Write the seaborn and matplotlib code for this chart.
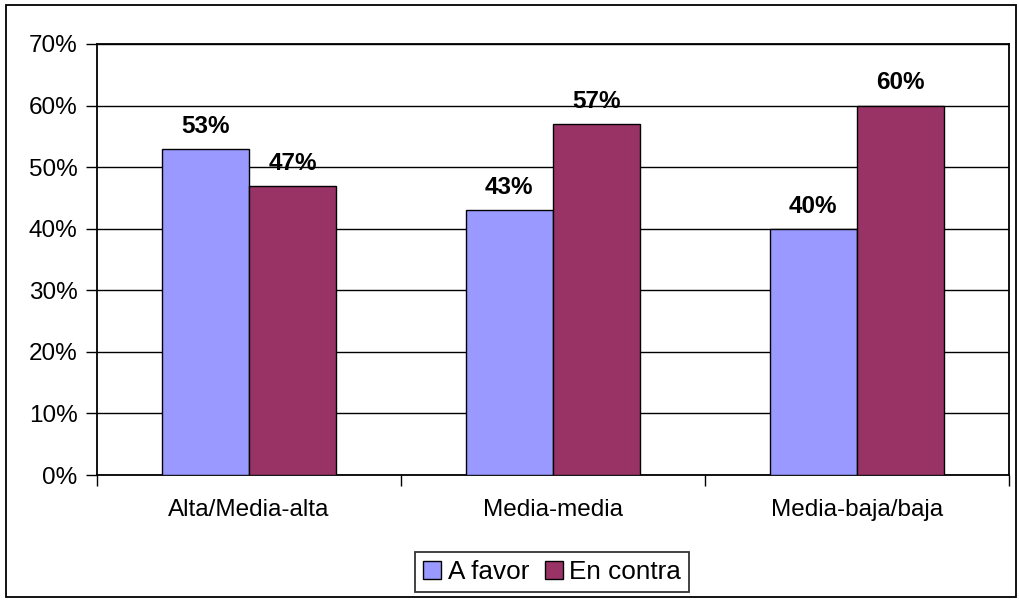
import matplotlib
matplotlib.use("Agg")
import matplotlib.pyplot as plt
import matplotlib.patches as mpatches
import seaborn as sns
import pandas as pd

categories = ["Alta/Media-alta", "Media-media", "Media-baja/baja"]
a_favor = [53, 43, 40]
en_contra = [47, 57, 60]
series_names = ["A favor", "En contra"]
y_ticks = [0, 10, 20, 30, 40, 50, 60, 70]
y_tick_labels = [f"{v}%" for v in y_ticks]

sns.set_style("white")
plt.rcParams["font.family"] = ["Liberation Sans", "DejaVu Sans"]
plt.rcParams["text.color"] = "black"
plt.rcParams["xtick.color"] = "black"
plt.rcParams["ytick.color"] = "black"
plt.rcParams["axes.labelcolor"] = "black"

df = pd.DataFrame({
    "cat": categories * 2,
    "serie": [series_names[0]] * 3 + [series_names[1]] * 3,
    "val": a_favor + en_contra,
})

fig = plt.figure(figsize=(10.19, 6.0), dpi=100)
ax = fig.add_axes([97 / 1019, 125 / 600, 912 / 1019, 431 / 600])

palette = {"A favor": "#9999FF", "En contra": "#993366"}
sns.barplot(data=df, x="cat", y="val", hue="serie", palette=palette,
            width=0.575, edgecolor="black", linewidth=1.0, saturation=1,
            ax=ax, zorder=3, legend=False)

ax.set_xlim(-0.5, 2.5)
ax.set_ylim(0, 70)
ax.set_yticks(y_ticks)
ax.set_yticklabels(y_tick_labels, fontsize=17.5, color="black")
ax.yaxis.grid(True, color="black", linewidth=1.0, zorder=0)
ax.set_axisbelow(True)

ax.set_xticks([-0.5, 0.5, 1.5, 2.5])
ax.set_xticklabels([])
ax.set_xticks([0, 1, 2], minor=True)
ax.set_xticklabels(categories, minor=True, fontsize=17.5, color="black")
ax.tick_params(axis="x", which="major", direction="out", length=8, width=1.0, color="black", bottom=True)
ax.tick_params(axis="x", which="minor", length=0, pad=17)
ax.tick_params(axis="y", direction="out", length=8, width=1.0, color="black", left=True, pad=6)
ax.set_xlabel("")
ax.set_ylabel("")

for s in ax.spines.values():
    s.set_visible(True)
    s.set_color("black")
    s.set_linewidth(1.3)

for cont in ax.containers:
    for bar in cont:
        h = bar.get_height()
        ax.annotate(f"{h:.0f}%", (bar.get_x() + bar.get_width() / 2, h),
                    xytext=(0, 8), textcoords="offset points", color="black",
                    ha="center", va="bottom", fontsize=17.5, fontweight="bold", zorder=5)

handles = [mpatches.Patch(facecolor=palette[n], edgecolor="black", linewidth=1.0) for n in series_names]
leg = fig.legend(handles, series_names, loc="center", bbox_to_anchor=(552 / 1019, 1 - 572 / 600),
                 ncol=2, fontsize=18.8, frameon=True, fancybox=False, edgecolor="black",
                 handlelength=0.7, handleheight=0.7, handletextpad=0.25, columnspacing=0.6,
                 borderpad=0.3, borderaxespad=0, labelcolor="black")
leg.get_frame().set_linewidth(1.3)

fig.patches.append(mpatches.Rectangle((6 / 1019, 3 / 600), 1010 / 1019, 592 / 600,
                                      transform=fig.transFigure, fill=False,
                                      edgecolor="black", linewidth=1.3))

fig.savefig("out.png", dpi=100, facecolor="white")
